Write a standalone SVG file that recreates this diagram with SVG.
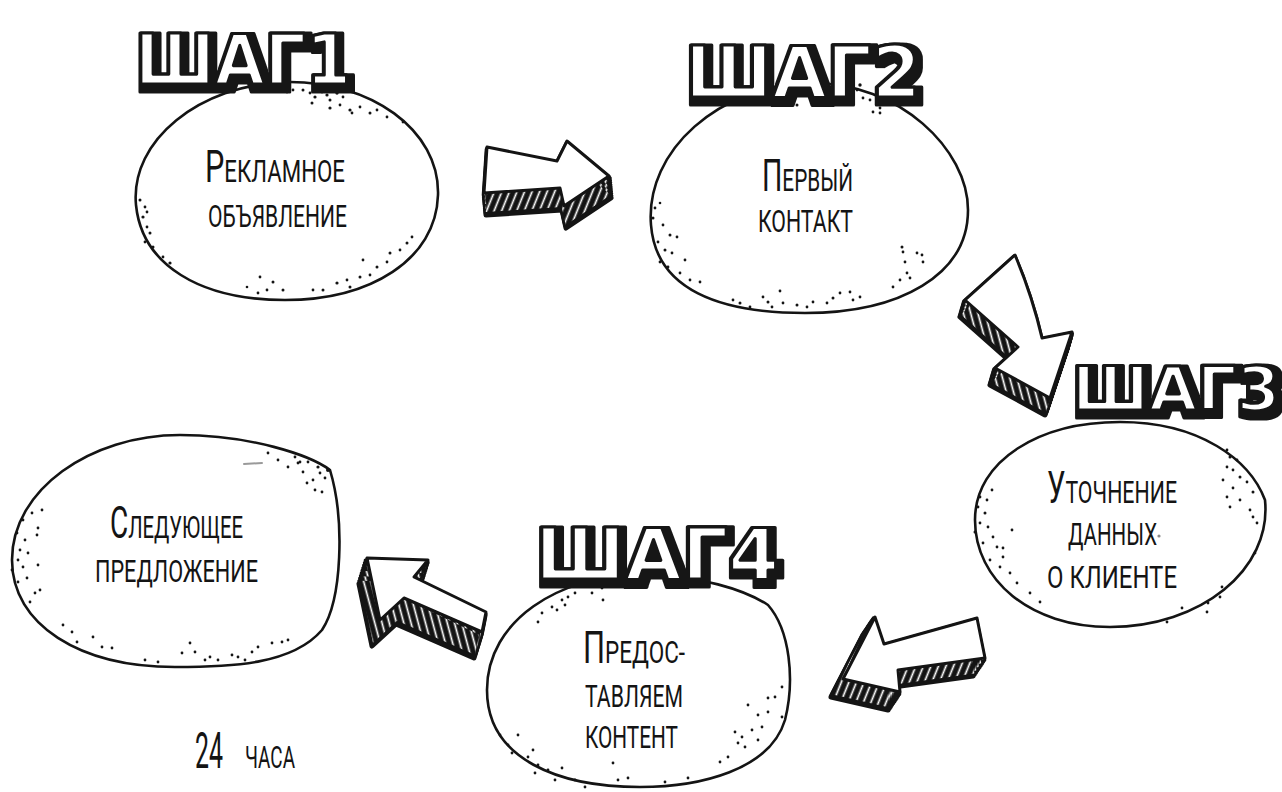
<svg xmlns="http://www.w3.org/2000/svg" xmlns:xlink="http://www.w3.org/1999/xlink" width="1282" height="792" viewBox="0 0 1282 792">
  <style>
    .blob { fill: #fff; stroke: #141414; stroke-width: 2.6; stroke-linejoin: round; }
    .dots circle { fill: #141414; }
    .label { font-family: "Roboto", "DejaVu Sans Condensed", "DejaVu Sans", sans-serif; font-weight: 400; font-size: 32px; text-transform: uppercase; fill: #141414; }
    .cap { font-size: 44px; }
    .step { font-family: "DejaVu Sans", sans-serif; font-weight: bold; fill: #fff; stroke: #141414; stroke-width: 3.2; stroke-linejoin: round; filter: url(#bubble); }
    .arrow-edge { fill: #141414; stroke: #141414; stroke-width: 5; stroke-linejoin: round; }
    .arrow-face { fill: #fff; stroke: #141414; stroke-width: 3; stroke-linejoin: round; }
  </style>
  <defs>
    <!-- fat drop shadow behind the bubble lettering -->
    <filter id="bubble" x="-10%" y="-25%" width="125%" height="160%">
      <feMorphology in="SourceAlpha" operator="dilate" radius="3.5" result="fat"/>
      <feOffset in="fat" dx="3" dy="4" result="shifted"/>
      <feFlood flood-color="#141414"/>
      <feComposite in2="shifted" operator="in" result="shadow"/>
      <feMerge><feMergeNode in="shadow"/><feMergeNode in="SourceGraphic"/></feMerge>
    </filter>
    <pattern id="hatchR" width="7" height="7" patternUnits="userSpaceOnUse" patternTransform="rotate(22)">
      <rect width="7" height="7" fill="#141414"/>
      <rect x="2.6" width="1.7" height="7" fill="#fff"/>
    </pattern>
    <pattern id="hatchL" width="7" height="7" patternUnits="userSpaceOnUse" patternTransform="rotate(-15)">
      <rect width="7" height="7" fill="#141414"/>
      <rect x="2.6" width="1.7" height="7" fill="#fff"/>
    </pattern>
    <!-- arrow faces -->
    <path id="arrow1" d="M487,147 L557,161 L567,141 L609,176 L564,206 L560,188 L484,193 Z"/>
    <path id="arrow2" d="M965,300 L1015,255 Q1032,295 1042,338 L1072,332 L1050,398 L995,368 L1018,347 Z"/>
    <path id="arrow3" d="M875,617 L884,644 L977,618 L985,658 L898,670 L900,692 L843,679 Z"/>
    <path id="arrow4" d="M367,558 L428,560 L414,577 L486,612 L482,632 L404,598 L380,620 Z"/>
  </defs>

  <!-- oval steps -->
  <g id="node-ad">
    <path class="blob" d="M136,205 C130,140 200,85 285,82 C370,80 440,130 438,195 C436,260 370,300 285,300 C200,300 142,265 136,205 Z"/>
    <g class="dots">
      <circle cx="287" cy="92" r="1.4"/><circle cx="293" cy="90" r="1.4"/><circle cx="303" cy="90" r="1.5"/><circle cx="310" cy="93" r="1.4"/><circle cx="315" cy="97" r="1.6"/><circle cx="322" cy="92" r="1.4"/><circle cx="327" cy="95" r="1.6"/><circle cx="330" cy="100" r="1.5"/><circle cx="337" cy="93" r="1.7"/><circle cx="343" cy="97" r="1.4"/><circle cx="312" cy="103" r="1.5"/><circle cx="330" cy="108" r="1.6"/><circle cx="340" cy="105" r="1.4"/><circle cx="350" cy="110" r="1.6"/><circle cx="360" cy="107" r="1.4"/><circle cx="370" cy="113" r="1.5"/><circle cx="377" cy="110" r="1.4"/><circle cx="387" cy="117" r="1.4"/><circle cx="403" cy="122" r="1.4"/><circle cx="352" cy="113" r="1.4"/><circle cx="327" cy="90" r="1.4"/><circle cx="333" cy="88" r="1.5"/>
      <circle cx="140" cy="200" r="1.5"/><circle cx="145" cy="207" r="1.4"/><circle cx="143" cy="217" r="1.6"/><circle cx="147" cy="227" r="1.4"/><circle cx="150" cy="233" r="1.5"/><circle cx="145" cy="242" r="1.4"/><circle cx="153" cy="247" r="1.5"/><circle cx="163" cy="257" r="1.4"/><circle cx="170" cy="263" r="1.6"/><circle cx="147" cy="212" r="1.4"/>
      <circle cx="260" cy="277" r="1.4"/><circle cx="273" cy="282" r="1.5"/><circle cx="247" cy="287" r="1.3"/><circle cx="267" cy="290" r="1.4"/><circle cx="258" cy="293" r="1.4"/><circle cx="283" cy="290" r="1.5"/><circle cx="313" cy="290" r="1.4"/><circle cx="323" cy="290" r="1.5"/><circle cx="337" cy="283" r="1.6"/><circle cx="347" cy="280" r="1.4"/><circle cx="360" cy="277" r="1.5"/><circle cx="370" cy="275" r="1.4"/><circle cx="377" cy="267" r="1.5"/><circle cx="387" cy="262" r="1.4"/><circle cx="390" cy="253" r="1.5"/><circle cx="400" cy="250" r="1.4"/><circle cx="407" cy="243" r="1.5"/><circle cx="412" cy="237" r="1.4"/><circle cx="363" cy="260" r="1.4"/><circle cx="350" cy="287" r="1.5"/>
    </g>
    <text class="label" x="205" y="182" textLength="140" lengthAdjust="spacingAndGlyphs"><tspan class="cap">Р</tspan>екламное</text>
    <text class="label" x="208" y="227" textLength="139" lengthAdjust="spacingAndGlyphs">объявление</text>
  </g>

  <g id="node-contact">
    <path class="blob" d="M651,225 C645,150 720,85 810,83 C900,82 968,150 968,210 C968,275 900,313 805,313 C720,313 656,290 651,225 Z"/>
    <g class="dots">
      <circle cx="760" cy="92" r="1.4"/><circle cx="773" cy="90" r="1.4"/><circle cx="783" cy="95" r="1.5"/><circle cx="797" cy="105" r="1.5"/><circle cx="803" cy="93" r="1.4"/><circle cx="807" cy="88" r="1.5"/><circle cx="822" cy="88" r="1.4"/><circle cx="827" cy="92" r="1.4"/><circle cx="832" cy="93" r="1.5"/><circle cx="840" cy="95" r="1.4"/><circle cx="842" cy="100" r="1.4"/><circle cx="853" cy="93" r="1.5"/><circle cx="860" cy="85" r="1.7"/><circle cx="863" cy="98" r="1.4"/><circle cx="870" cy="100" r="1.4"/><circle cx="873" cy="112" r="1.4"/><circle cx="880" cy="113" r="1.4"/><circle cx="880" cy="108" r="1.4"/><circle cx="877" cy="102" r="1.4"/><circle cx="857" cy="90" r="1.4"/><circle cx="792" cy="87" r="1.4"/>
      <circle cx="655" cy="208" r="1.4"/><circle cx="660" cy="203" r="1.3"/><circle cx="653" cy="218" r="1.5"/><circle cx="663" cy="225" r="1.4"/><circle cx="670" cy="235" r="1.5"/><circle cx="658" cy="242" r="1.4"/><circle cx="677" cy="237" r="1.4"/><circle cx="665" cy="250" r="1.5"/><circle cx="672" cy="253" r="1.4"/><circle cx="685" cy="260" r="1.4"/><circle cx="660" cy="262" r="1.4"/><circle cx="668" cy="267" r="1.4"/><circle cx="680" cy="273" r="1.4"/><circle cx="690" cy="280" r="1.4"/><circle cx="700" cy="282" r="1.4"/>
      <circle cx="733" cy="300" r="1.4"/><circle cx="740" cy="303" r="1.5"/><circle cx="750" cy="307" r="1.4"/><circle cx="763" cy="297" r="1.4"/><circle cx="768" cy="302" r="1.5"/><circle cx="772" cy="307" r="1.4"/><circle cx="780" cy="291" r="1.4"/><circle cx="783" cy="303" r="1.4"/><circle cx="797" cy="305" r="1.5"/><circle cx="807" cy="307" r="1.4"/><circle cx="813" cy="302" r="1.4"/><circle cx="827" cy="303" r="1.4"/><circle cx="833" cy="298" r="1.5"/><circle cx="840" cy="293" r="1.4"/><circle cx="850" cy="292" r="1.4"/><circle cx="853" cy="300" r="1.4"/><circle cx="860" cy="297" r="1.4"/>
      <circle cx="902" cy="247" r="1.5"/><circle cx="903" cy="252" r="1.4"/><circle cx="905" cy="262" r="1.4"/><circle cx="917" cy="253" r="1.4"/><circle cx="922" cy="255" r="1.4"/><circle cx="923" cy="262" r="1.4"/><circle cx="907" cy="273" r="1.4"/><circle cx="900" cy="280" r="1.4"/><circle cx="910" cy="278" r="1.4"/><circle cx="893" cy="287" r="1.4"/>
    </g>
    <text class="label" x="762" y="191" textLength="91" lengthAdjust="spacingAndGlyphs"><tspan class="cap">П</tspan>ервый</text>
    <text class="label" x="758" y="232" textLength="95" lengthAdjust="spacingAndGlyphs">контакт</text>
  </g>

  <g id="node-details">
    <path class="blob" d="M975,520 C975,460 1040,422 1120,422 C1200,422 1250,460 1265,500 C1272,570 1200,627 1110,627 C1030,627 975,580 975,520 Z"/>
    <g class="dots">
      <circle cx="992" cy="490" r="1.4"/><circle cx="987" cy="500" r="1.4"/><circle cx="978" cy="507" r="1.4"/><circle cx="985" cy="513" r="1.5"/><circle cx="980" cy="523" r="1.4"/><circle cx="988" cy="527" r="1.4"/><circle cx="975" cy="532" r="1.5"/><circle cx="993" cy="537" r="1.4"/><circle cx="983" cy="543" r="1.4"/><circle cx="997" cy="547" r="1.4"/><circle cx="1003" cy="557" r="1.4"/><circle cx="990" cy="560" r="1.4"/><circle cx="1000" cy="567" r="1.4"/><circle cx="1010" cy="573" r="1.4"/><circle cx="1017" cy="583" r="1.4"/><circle cx="1030" cy="593" r="1.4"/><circle cx="1040" cy="602" r="1.4"/><circle cx="1012" cy="530" r="1.4"/><circle cx="1003" cy="548" r="1.4"/><circle cx="980" cy="497" r="1.4"/>
      <circle cx="1227" cy="450" r="1.4"/><circle cx="1230" cy="457" r="1.5"/><circle cx="1237" cy="460" r="1.4"/><circle cx="1227" cy="467" r="1.4"/><circle cx="1233" cy="470" r="1.4"/><circle cx="1240" cy="477" r="1.5"/><circle cx="1223" cy="480" r="1.4"/><circle cx="1247" cy="482" r="1.4"/><circle cx="1233" cy="488" r="1.4"/><circle cx="1253" cy="492" r="1.5"/><circle cx="1227" cy="497" r="1.4"/><circle cx="1240" cy="500" r="1.4"/><circle cx="1230" cy="507" r="1.4"/><circle cx="1250" cy="510" r="1.4"/><circle cx="1253" cy="517" r="1.4"/><circle cx="1257" cy="523" r="1.4"/><circle cx="1255" cy="553" r="1.4"/><circle cx="1222" cy="587" r="1.4"/><circle cx="1220" cy="597" r="1.4"/><circle cx="1208" cy="603" r="1.4"/><circle cx="1207" cy="612" r="1.4"/><circle cx="1182" cy="608" r="1.4"/><circle cx="1167" cy="622" r="1.4"/>
    </g>
    <text class="label" x="1047" y="503" textLength="130" lengthAdjust="spacingAndGlyphs"><tspan class="cap">У</tspan>точнение</text>
    <text class="label" x="1068" y="545" textLength="89" lengthAdjust="spacingAndGlyphs">данных</text>
    <text class="label" x="1047" y="588" textLength="130" lengthAdjust="spacingAndGlyphs">о клиенте</text>
  </g>

  <g id="node-content">
    <path class="blob" d="M487,690 C487,620 560,575 640,575 C700,575 745,590 768,605 C790,630 795,680 785,720 C770,770 700,787 640,787 C560,787 487,760 487,690 Z"/>
    <g class="dots">
      <circle cx="542" cy="613" r="1.4"/><circle cx="552" cy="607" r="1.4"/><circle cx="562" cy="600" r="1.4"/><circle cx="568" cy="597" r="1.4"/><circle cx="575" cy="593" r="1.4"/><circle cx="565" cy="605" r="1.4"/><circle cx="592" cy="593" r="1.4"/><circle cx="602" cy="588" r="1.4"/><circle cx="612" cy="582" r="1.4"/><circle cx="622" cy="585" r="1.4"/><circle cx="630" cy="583" r="1.4"/><circle cx="645" cy="578" r="1.4"/><circle cx="647" cy="587" r="1.4"/><circle cx="603" cy="600" r="1.4"/><circle cx="538" cy="622" r="1.4"/><circle cx="557" cy="610" r="1.4"/>
      <circle cx="782" cy="687" r="1.4"/><circle cx="775" cy="697" r="1.4"/><circle cx="768" cy="698" r="1.4"/><circle cx="748" cy="705" r="1.4"/><circle cx="768" cy="712" r="1.4"/><circle cx="758" cy="715" r="1.4"/><circle cx="782" cy="717" r="1.4"/><circle cx="762" cy="727" r="1.4"/><circle cx="752" cy="730" r="1.4"/><circle cx="742" cy="737" r="1.4"/><circle cx="735" cy="732" r="1.4"/><circle cx="738" cy="743" r="1.4"/><circle cx="745" cy="747" r="1.4"/><circle cx="728" cy="757" r="1.4"/><circle cx="720" cy="762" r="1.4"/><circle cx="758" cy="740" r="1.4"/>
      <circle cx="500" cy="735" r="1.4"/><circle cx="518" cy="735" r="1.4"/><circle cx="508" cy="745" r="1.4"/><circle cx="512" cy="753" r="1.4"/><circle cx="533" cy="750" r="1.4"/><circle cx="528" cy="757" r="1.4"/><circle cx="538" cy="765" r="1.4"/><circle cx="535" cy="773" r="1.4"/><circle cx="548" cy="770" r="1.4"/><circle cx="555" cy="780" r="1.4"/><circle cx="575" cy="780" r="1.4"/><circle cx="585" cy="787" r="1.4"/><circle cx="562" cy="768" r="1.4"/><circle cx="613" cy="763" r="1.4"/><circle cx="618" cy="780" r="1.4"/><circle cx="628" cy="778" r="1.4"/><circle cx="665" cy="782" r="1.4"/><circle cx="688" cy="778" r="1.4"/>
    </g>
    <text class="label" x="583" y="663" textLength="102" lengthAdjust="spacingAndGlyphs"><tspan class="cap">П</tspan>редос-</text>
    <text class="label" x="585" y="707" textLength="98" lengthAdjust="spacingAndGlyphs">тавляем</text>
    <text class="label" x="585" y="748" textLength="93" lengthAdjust="spacingAndGlyphs">контент</text>
  </g>

  <g id="node-next">
    <path class="blob" d="M12,560 C12,490 90,435 180,435 C250,435 310,455 330,470 C345,520 342,600 322,630 C292,665 230,667 175,667 C80,667 12,625 12,560 Z"/>
    <g class="dots">
      <circle cx="268" cy="453" r="1.4"/><circle cx="278" cy="460" r="1.4"/><circle cx="288" cy="467" r="1.4"/><circle cx="295" cy="457" r="1.4"/><circle cx="298" cy="463" r="1.4"/><circle cx="303" cy="472" r="1.4"/><circle cx="308" cy="462" r="1.4"/><circle cx="318" cy="467" r="1.6"/><circle cx="320" cy="473" r="1.4"/><circle cx="325" cy="478" r="1.4"/><circle cx="313" cy="480" r="1.4"/><circle cx="322" cy="492" r="1.4"/><circle cx="307" cy="483" r="1.4"/><circle cx="315" cy="490" r="1.4"/><circle cx="328" cy="470" r="2"/><circle cx="300" cy="462" r="1.4"/>
      <circle cx="42" cy="510" r="1.4"/><circle cx="32" cy="513" r="1.4"/><circle cx="23" cy="520" r="1.4"/><circle cx="38" cy="528" r="1.4"/><circle cx="17" cy="533" r="1.4"/><circle cx="37" cy="535" r="1.4"/><circle cx="25" cy="540" r="1.4"/><circle cx="20" cy="550" r="1.4"/><circle cx="28" cy="553" r="1.4"/><circle cx="18" cy="560" r="1.4"/><circle cx="38" cy="565" r="1.4"/><circle cx="23" cy="567" r="1.4"/><circle cx="12" cy="570" r="1.4"/><circle cx="27" cy="578" r="1.4"/><circle cx="35" cy="593" r="1.4"/><circle cx="40" cy="590" r="1.4"/><circle cx="30" cy="602" r="1.4"/><circle cx="18" cy="582" r="1.4"/>
      <circle cx="63" cy="625" r="1.4"/><circle cx="72" cy="632" r="1.4"/><circle cx="77" cy="642" r="1.4"/><circle cx="93" cy="637" r="1.4"/><circle cx="102" cy="647" r="1.4"/><circle cx="112" cy="648" r="1.4"/><circle cx="145" cy="660" r="1.4"/><circle cx="158" cy="662" r="1.4"/><circle cx="182" cy="653" r="1.4"/><circle cx="190" cy="643" r="1.4"/><circle cx="195" cy="652" r="1.4"/><circle cx="205" cy="660" r="1.4"/><circle cx="210" cy="657" r="1.4"/><circle cx="218" cy="660" r="1.4"/><circle cx="232" cy="655" r="1.4"/><circle cx="238" cy="657" r="1.4"/><circle cx="252" cy="652" r="1.4"/><circle cx="258" cy="647" r="1.4"/><circle cx="272" cy="643" r="1.4"/><circle cx="282" cy="642" r="1.4"/><circle cx="288" cy="640" r="1.4"/><circle cx="245" cy="660" r="1.4"/>
    </g>
    <text class="label" x="110" y="538" textLength="133" lengthAdjust="spacingAndGlyphs"><tspan class="cap">С</tspan>ледующее</text>
    <text class="label" x="95" y="582" textLength="163" lengthAdjust="spacingAndGlyphs">предложение</text>
  </g>

  <!-- step headings -->
  <text id="step1" class="step" x="135" y="84" font-size="70" textLength="216" lengthAdjust="spacingAndGlyphs">ШАГ1</text>
  <text id="step2" class="step" x="685" y="97" font-size="72" textLength="236" lengthAdjust="spacingAndGlyphs">ШАГ2</text>
  <text id="step3" class="step" x="1072" y="410" font-size="60" textLength="208" lengthAdjust="spacingAndGlyphs">ШАГ3</text>
  <text id="step4" class="step" x="535" y="579" font-size="72" textLength="244" lengthAdjust="spacingAndGlyphs">ШАГ4</text>

  <!-- connectors: extruded hand-drawn arrows -->
  <g id="connectors">
    <g id="arrow-1-2">
      <g class="arrow-edge">
        <use xlink:href="#arrow1" transform="translate(0.2,2.2)"/><use xlink:href="#arrow1" transform="translate(0.4,4.4)"/><use xlink:href="#arrow1" transform="translate(0.6,6.6)"/><use xlink:href="#arrow1" transform="translate(0.8,8.8)"/><use xlink:href="#arrow1" transform="translate(1,11)"/><use xlink:href="#arrow1" transform="translate(1.2,13.2)"/><use xlink:href="#arrow1" transform="translate(1.4,15.4)"/><use xlink:href="#arrow1" transform="translate(1.6,17.6)"/><use xlink:href="#arrow1" transform="translate(1.8,19.8)"/><use xlink:href="#arrow1" transform="translate(2,22)"/>
      </g>
      <g fill="url(#hatchR)">
        <use xlink:href="#arrow1" transform="translate(0.2,2.2)"/><use xlink:href="#arrow1" transform="translate(0.6,6.6)"/><use xlink:href="#arrow1" transform="translate(1,11)"/><use xlink:href="#arrow1" transform="translate(1.4,15.4)"/><use xlink:href="#arrow1" transform="translate(1.7,19)"/>
      </g>
      <use xlink:href="#arrow1" class="arrow-face"/>
    </g>
    <g id="arrow-2-3">
      <g class="arrow-edge">
        <use xlink:href="#arrow2" transform="translate(-0.5,1.7)"/><use xlink:href="#arrow2" transform="translate(-1,3.4)"/><use xlink:href="#arrow2" transform="translate(-1.5,5.1)"/><use xlink:href="#arrow2" transform="translate(-2,6.8)"/><use xlink:href="#arrow2" transform="translate(-2.5,8.5)"/><use xlink:href="#arrow2" transform="translate(-3,10.2)"/><use xlink:href="#arrow2" transform="translate(-3.5,11.9)"/><use xlink:href="#arrow2" transform="translate(-4,13.6)"/><use xlink:href="#arrow2" transform="translate(-4.5,15.3)"/><use xlink:href="#arrow2" transform="translate(-5,17)"/>
      </g>
      <g fill="url(#hatchL)">
        <use xlink:href="#arrow2" transform="translate(-0.5,1.7)"/><use xlink:href="#arrow2" transform="translate(-1.5,5.1)"/><use xlink:href="#arrow2" transform="translate(-2.5,8.5)"/><use xlink:href="#arrow2" transform="translate(-3.5,11.9)"/><use xlink:href="#arrow2" transform="translate(-4.3,14.5)"/>
      </g>
      <use xlink:href="#arrow2" class="arrow-face"/>
    </g>
    <g id="arrow-3-4">
      <g class="arrow-edge">
        <use xlink:href="#arrow3" transform="translate(-1.2,1.8)"/><use xlink:href="#arrow3" transform="translate(-2.4,3.6)"/><use xlink:href="#arrow3" transform="translate(-3.6,5.4)"/><use xlink:href="#arrow3" transform="translate(-4.8,7.2)"/><use xlink:href="#arrow3" transform="translate(-6,9)"/><use xlink:href="#arrow3" transform="translate(-7.2,10.8)"/><use xlink:href="#arrow3" transform="translate(-8.4,12.6)"/><use xlink:href="#arrow3" transform="translate(-9.6,14.4)"/><use xlink:href="#arrow3" transform="translate(-10.8,16.2)"/><use xlink:href="#arrow3" transform="translate(-12,18)"/>
      </g>
      <g fill="url(#hatchR)">
        <use xlink:href="#arrow3" transform="translate(-1.2,1.8)"/><use xlink:href="#arrow3" transform="translate(-3.6,5.4)"/><use xlink:href="#arrow3" transform="translate(-6,9)"/><use xlink:href="#arrow3" transform="translate(-8.4,12.6)"/><use xlink:href="#arrow3" transform="translate(-10.4,15.6)"/>
      </g>
      <use xlink:href="#arrow3" class="arrow-face"/>
    </g>
    <g id="arrow-4-5">
      <g class="arrow-edge">
        <use xlink:href="#arrow4" transform="translate(-0.8,2.6)"/><use xlink:href="#arrow4" transform="translate(-1.6,5.2)"/><use xlink:href="#arrow4" transform="translate(-2.4,7.8)"/><use xlink:href="#arrow4" transform="translate(-3.2,10.4)"/><use xlink:href="#arrow4" transform="translate(-4,13)"/><use xlink:href="#arrow4" transform="translate(-4.8,15.6)"/><use xlink:href="#arrow4" transform="translate(-5.6,18.2)"/><use xlink:href="#arrow4" transform="translate(-6.4,20.8)"/><use xlink:href="#arrow4" transform="translate(-7.2,23.4)"/><use xlink:href="#arrow4" transform="translate(-8,26)"/>
      </g>
      <g fill="url(#hatchL)">
        <use xlink:href="#arrow4" transform="translate(-0.8,2.6)"/><use xlink:href="#arrow4" transform="translate(-2.4,7.8)"/><use xlink:href="#arrow4" transform="translate(-4,13)"/><use xlink:href="#arrow4" transform="translate(-5.6,18.2)"/><use xlink:href="#arrow4" transform="translate(-7,22.8)"/>
      </g>
      <use xlink:href="#arrow4" class="arrow-face"/>
    </g>
  </g>

  <!-- time note and stray pen marks -->
  <text id="note-24h" class="label" y="768"><tspan x="195" style="font-size:50px" textLength="28" lengthAdjust="spacingAndGlyphs">24</tspan><tspan x="245" textLength="50" lengthAdjust="spacingAndGlyphs">часа</tspan></text>
  <line x1="244" y1="464" x2="262" y2="463" stroke="#9a9a9a" stroke-width="2" stroke-linecap="round"/>
  <circle cx="1159" cy="536" r="1.6" fill="#8a8a8a"/>
</svg>
